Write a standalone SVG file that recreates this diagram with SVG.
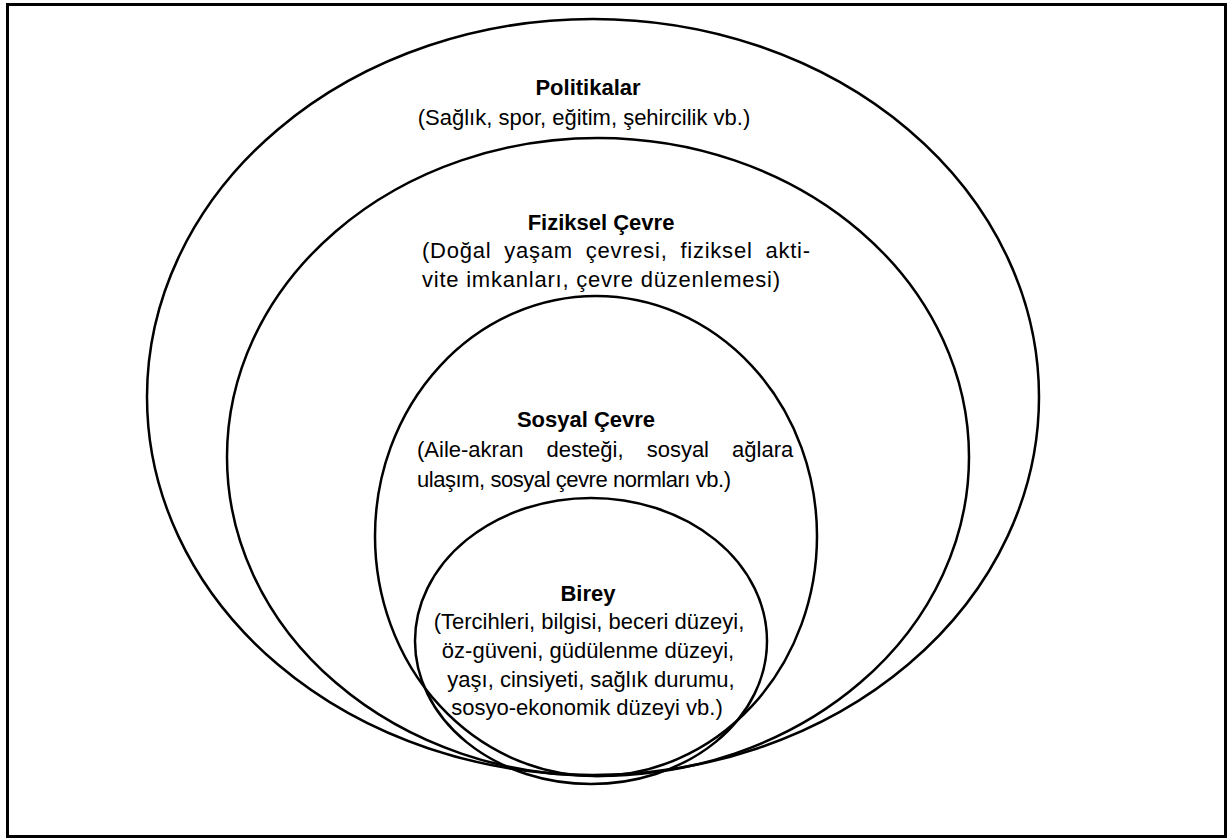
<svg xmlns="http://www.w3.org/2000/svg" width="1231" height="838" viewBox="0 0 1231 838">
<style>
.ring{fill:none;stroke:#000;stroke-width:2.5}
.t{font-family:"Liberation Sans",Arial,sans-serif;font-size:22px;fill:#000}
.b{font-weight:bold}
.m{text-anchor:middle}
</style>
<rect x="0" y="0" width="1231" height="838" fill="#fff"/>
<rect x="7.5" y="4.5" width="1218" height="832" fill="none" stroke="#000" stroke-width="3"/>
<g id="politikalar">
<ellipse class="ring" cx="593" cy="397" rx="446" ry="378"/>
<text class="t b m" x="588" y="95">Politikalar</text>
<text class="t m" x="584" y="125">(Sağlık, spor, eğitim, şehircilik vb.)</text>
</g>
<g id="fiziksel-cevre">
<ellipse class="ring" cx="598" cy="457" rx="371" ry="319"/>
<text class="t b m" x="601" y="230">Fiziksel Çevre</text>
<text class="t" x="422" y="258" word-spacing="6" textLength="388" lengthAdjust="spacing">(Doğal yaşam çevresi, fiziksel akti-</text>
<text class="t" x="422" y="287" textLength="358" lengthAdjust="spacing">vite imkanları, çevre düzenlemesi)</text>
</g>
<g id="sosyal-cevre">
<ellipse class="ring" cx="596" cy="536" rx="221" ry="240"/>
<text class="t b m" x="586" y="427">Sosyal Çevre</text>
<text class="t" x="417" y="457" word-spacing="17">(Aile-akran desteği, sosyal ağlara</text>
<text class="t" x="417" y="487" textLength="314" lengthAdjust="spacing">ulaşım, sosyal çevre normları vb.)</text>
</g>
<g id="birey">
<ellipse class="ring" cx="591" cy="641" rx="176" ry="143"/>
<text class="t b m" x="588" y="601">Birey</text>
<text class="t m" x="589" y="629">(Tercihleri, bilgisi, beceri düzeyi,</text>
<text class="t m" x="588" y="658">öz-güveni, güdülenme düzeyi,</text>
<text class="t m" x="591" y="687">yaşı, cinsiyeti, sağlık durumu,</text>
<text class="t m" x="587" y="715">sosyo-ekonomik düzeyi vb.)</text>
</g>
<g id="connectors"></g>
</svg>
